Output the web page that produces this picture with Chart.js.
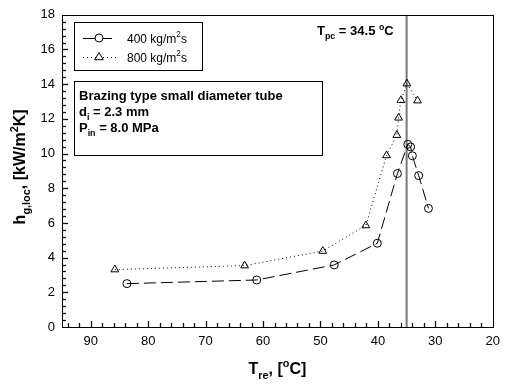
<!DOCTYPE html>
<html>
<head>
<meta charset="utf-8">
<script src="https://cdn.jsdelivr.net/npm/chart.js@4/dist/chart.umd.min.js"></script>
<style>
  body { margin: 0; background: #fff; }
  #wrap { width: 507px; height: 385px; }
</style>
</head>
<body>
<div id="wrap"><canvas id="chartHtc" width="507" height="385"></canvas></div>
<script>
// data
const xTicks = [90, 80, 70, 60, 50, 40, 30, 20];
const yTicks = [0, 2, 4, 6, 8, 10, 12, 14, 16, 18];

const temp400 = [83.7, 61.1, 47.6, 40.1, 36.6, 34.8, 34.3, 34.0, 32.9, 31.2];
const htc400  = [2.50, 2.71, 3.58, 4.83, 8.85, 10.53, 10.38, 9.87, 8.73, 6.84];

const temp800 = [85.8, 63.2, 49.6, 42.1, 38.5, 36.7, 36.4, 36.0, 34.95, 33.1];
const htc800  = [3.31, 3.54, 4.38, 5.85, 9.89, 11.06, 12.06, 13.07, 14.03, 13.05];

const tpcLine = [35, 35];
const tpcRange = [0, 18];

const FONT = "'Liberation Sans', Arial, sans-serif";

toPoints = (xs, ys) => xs.map((v, i) => ({ x: v, y: ys[i] }));

// text with sub / superscripts: parts = [[text, 0 normal | 1 sub | 2 sup], ...]
drawRich = (ctx, parts, x, y, size, bold, align) => {
    const w = (t, s) => {
        ctx.font = (bold ? 'bold ' : '') + s + 'px ' + FONT;
        return ctx.measureText(t).width;
    };
    let total = 0;
    parts.forEach(p => { total += w(p[0], p[1] ? size * 0.68 : size); });
    let cx = align === 'center' ? x - total / 2 : x;
    ctx.textBaseline = 'alphabetic';
    ctx.textAlign = 'left';
    parts.forEach(p => {
        const s = p[1] ? size * 0.68 : size;
        const dy = p[1] === 1 ? size * 0.3 : (p[1] === 2 ? -size * 0.42 : 0);
        ctx.font = (bold ? 'bold ' : '') + s + 'px ' + FONT;
        ctx.fillText(p[0], cx, y + dy);
        cx += ctx.measureText(p[0]).width;
    });
};

const framePlugin = {
    id: 'framePlugin',
    afterDraw(chart) {
        const ctx = chart.ctx;
        const { left, right, top, bottom } = chart.chartArea;
        const xs = chart.scales.x, ys = chart.scales.y;
        ctx.save();
        ctx.setLineDash([]);
        ctx.strokeStyle = '#000';
        ctx.lineWidth = 1;
        ctx.strokeRect(Math.round(left) + 0.5, Math.round(top) + 0.5,
            Math.round(right - left), Math.round(bottom - top));

        // inward ticks, major + minor
        const b = Math.round(bottom), l = Math.round(left);
        ctx.strokeStyle = '#111';
        ctx.lineWidth = 1.3;
        for (let v = 22; v < 95; v += 2) {
            const px = Math.round(xs.getPixelForValue(v)) + 0.5;
            const len = v % 10 === 0 ? 6 : 4;
            ctx.beginPath();
            ctx.moveTo(px, b);
            ctx.lineTo(px, b - len);
            ctx.stroke();
        }
        for (let i = 1; i < 45; i++) {
            const py = Math.round(ys.getPixelForValue(i * 0.4)) + 0.5;
            const len = i % 5 === 0 ? 6 : 4;
            ctx.beginPath();
            ctx.moveTo(l, py);
            ctx.lineTo(l + len, py);
            ctx.stroke();
        }
        ctx.strokeStyle = '#000';
        ctx.lineWidth = 1;

        ctx.fillStyle = '#000';
        // axis titles
        drawRich(ctx, [['T', 0], ['re', 1], [', [', 0], ['o', 2], ['C]', 0]],
            (left + right) / 2, 374, 16, true, 'center');
        ctx.save();
        ctx.translate(25, (top + bottom) / 2 - 4);
        ctx.rotate(-Math.PI / 2);
        drawRich(ctx, [['h', 0], ['g,loc', 1], [', [kW/m', 0], ['2', 2], ['K]', 0]],
            0, 0, 16, true, 'center');
        ctx.restore();

        // legend box
        ctx.strokeRect(74.5, 22.5, 128, 48);
        const sets = chart.data.datasets;
        [0, 1].forEach(k => {
            const ds = sets[k];
            const ly = 38 + k * 19;
            ctx.beginPath();
            ctx.setLineDash(ds.borderDash);
            ctx.moveTo(83, ly + 0.5);
            ctx.lineTo(116, ly + 0.5);
            ctx.stroke();
            ctx.setLineDash([]);
            ctx.beginPath();
            if (ds.pointStyle === 'triangle') {
                const r = ds.pointRadius;
                ctx.moveTo(99, ly - r);
                ctx.lineTo(99 + r * 0.95, ly + r * 0.6);
                ctx.lineTo(99 - r * 0.95, ly + r * 0.6);
                ctx.closePath();
            } else {
                ctx.arc(99, ly, ds.pointRadius, 0, Math.PI * 2);
            }
            ctx.fillStyle = '#fff';
            ctx.fill();
            ctx.stroke();
            ctx.fillStyle = '#000';
            drawRich(ctx, [[ds.label, 0], ['2', 2], ['s', 0]], 127, ly + 4.5, 12, false, 'left');
        });

        // info box
        ctx.strokeRect(74.5, 81.5, 248, 74);
        ctx.font = 'bold 13px ' + FONT;
        ctx.fillText('Brazing type small diameter tube', 79, 100);
        drawRich(ctx, [['d', 0], ['i', 1], [' = 2.3 mm', 0]], 79, 116, 13, true, 'left');
        drawRich(ctx, [['P', 0], ['in', 1], [' = 8.0 MPa', 0]], 79, 132, 13, true, 'left');

        // pseudo-critical label
        drawRich(ctx, [['T', 0], ['pc', 1], [' = 34.5 ', 0], ['o', 2], ['C', 0]], 317, 35, 13, true, 'left');
        ctx.restore();
    }
};

new Chart(document.getElementById('chartHtc').getContext('2d'), {
    type: 'scatter',
    data: {
        datasets: [
            {
                label: '400 kg/m',
                data: toPoints(temp400, htc400),
                showLine: true,
                borderColor: '#000',
                borderWidth: 1,
                borderDash: [12, 5],
                pointStyle: 'circle',
                pointRadius: 4,
                pointBorderColor: '#000',
                pointBackgroundColor: 'rgba(0,0,0,0)',
                pointBorderWidth: 1
            },
            {
                label: '800 kg/m',
                data: toPoints(temp800, htc800),
                showLine: true,
                borderColor: '#000',
                borderWidth: 1,
                borderDash: [1, 3],
                pointStyle: 'triangle',
                pointRadius: 4.5,
                pointBorderColor: '#000',
                pointBackgroundColor: 'rgba(0,0,0,0)',
                pointBorderWidth: 1
            },
            {
                label: 'Tpc',
                data: toPoints(tpcLine, tpcRange),
                showLine: true,
                borderColor: '#777',
                borderWidth: 2,
                pointRadius: 0
            }
        ]
    },
    options: {
        responsive: false,
        animation: false,
        devicePixelRatio: 1,
        layout: { padding: { top: 10, right: 5, left: 0, bottom: 0 } },
        plugins: {
            legend: { display: false },
            tooltip: { enabled: false }
        },
        scales: {
            x: {
                type: 'linear',
                reverse: true,
                min: 20,
                max: 95,
                afterBuildTicks: (scale) => { scale.ticks = xTicks.map(v => ({ value: v })); },
                afterFit: (scale) => { scale.height = 58; },
                grid: { display: false, drawTicks: false },
                border: { display: false },
                ticks: { padding: 7, color: '#000', font: { family: FONT, size: 13 }, maxRotation: 0 }
            },
            y: {
                type: 'linear',
                min: 0,
                max: 18,
                afterBuildTicks: (scale) => { scale.ticks = yTicks.map(v => ({ value: v })); },
                afterFit: (scale) => { scale.width = 62; },
                grid: { display: false, drawTicks: false },
                border: { display: false },
                ticks: { padding: 7, color: '#000', font: { family: FONT, size: 13 } }
            }
        }
    },
    plugins: [framePlugin]
});
</script>
</body>
</html>
